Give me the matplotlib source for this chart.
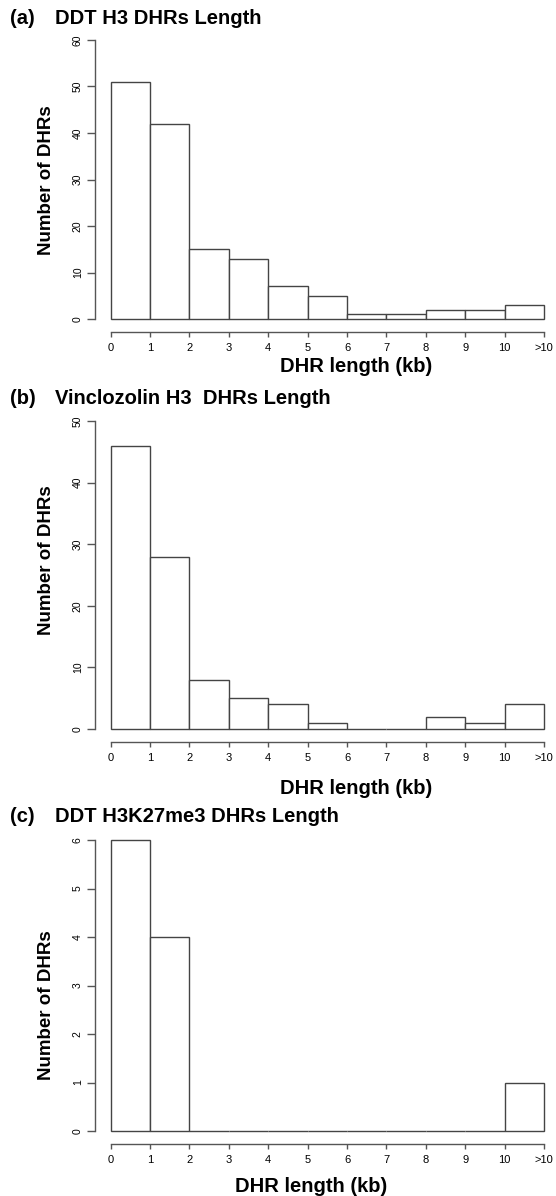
import numpy as np
import matplotlib.pyplot as plt

plt.rcParams['font.family'] = ['Liberation Sans', 'DejaVu Sans']

# bins: 0-1, 1-2, ..., 9-10, >10 (kb)
bin_labels = ['0', '1', '2', '3', '4', '5', '6', '7', '8', '9', '10', '>10']
counts_a = [51, 42, 15, 13, 7, 5, 1, 1, 2, 2, 3]
counts_b = [46, 28, 8, 5, 4, 1, 0, 0, 2, 1, 4]
counts_c = [6, 4, 0, 0, 0, 0, 0, 0, 0, 0, 1]

W, H = 556, 1196
fig = plt.figure(figsize=(W / 100, H / 100), dpi=100)

edge = '#444444'
axis_col = '#555555'

# (counts, title tag, title, ymax, ystep, px: y_top, y_zero, title_y, xlabel_y, xlabel_x, ylabel_y)
panels = [
    (counts_a, '(a)', 'DDT H3 DHRs Length', 60, 10, 40, 319, 18, 367, 356, 180),
    (counts_b, '(b)', 'Vinclozolin H3  DHRs Length', 50, 10, 421, 729, 398, 788, 356, 560),
    (counts_c, '(c)', 'DDT H3K27me3 DHRs Length', 6, 1, 840, 1131, 817, 1187, 311, 1005),
]

x0_px, x1_px = 110.7, 544.0

for counts, tag, title, ymax, ystep, ytop, yzero, ty, xly, xlx, yly in panels:
    ax = fig.add_axes([x0_px / W, 1 - yzero / H, (x1_px - x0_px) / W, (yzero - ytop) / H])
    ax.bar(np.arange(len(counts)), counts, width=1.0, align='edge',
           facecolor='white', edgecolor=edge, linewidth=1.0, clip_on=False)
    ax.set_xlim(0, 11)
    ax.set_ylim(0, ymax)
    ax.spines['top'].set_visible(False)
    ax.spines['right'].set_visible(False)
    ax.spines['left'].set_position(('outward', 11))
    ax.spines['bottom'].set_position(('outward', 9))
    ax.spines['left'].set_bounds(0, ymax)
    ax.spines['bottom'].set_bounds(0, 11)
    for s in ('left', 'bottom'):
        ax.spines[s].set_color(axis_col)
        ax.spines[s].set_linewidth(1.0)
    ax.set_xticks(np.arange(12))
    ax.set_xticklabels(bin_labels, fontsize=8)
    ax.set_yticks(np.arange(0, ymax + 1, ystep))
    ax.set_yticklabels([str(v) for v in range(0, ymax + 1, ystep)], fontsize=7.5,
                       rotation=90, va='center')
    ax.tick_params(axis='y', length=6, width=1.0, color=axis_col, pad=3)
    ax.tick_params(axis='x', length=3.5, width=1.0, color=axis_col, pad=5)

    fig.text(10 / W, 1 - ty / H, tag, fontsize=14.5, fontweight='bold', va='center')
    fig.text(55 / W, 1 - ty / H, title, fontsize=14.5, fontweight='bold', va='center')
    fig.text(xlx / W, 1 - xly / H, 'DHR length (kb)', fontsize=14.5, fontweight='bold',
             ha='center', va='center')
    fig.text(47 / W, 1 - yly / H, 'Number of DHRs', fontsize=13.5, fontweight='bold',
             ha='center', va='center', rotation=90)

fig.savefig('out.png', dpi=100)
